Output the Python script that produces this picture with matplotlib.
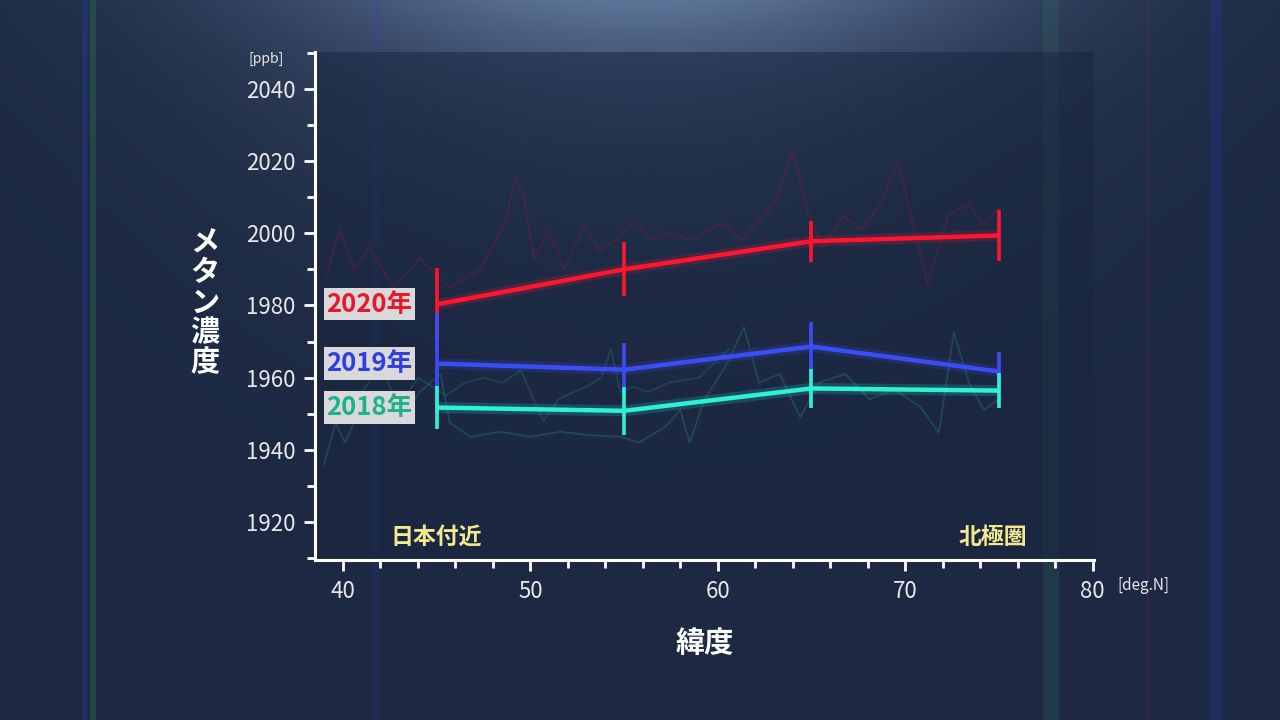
import numpy as np
import matplotlib
matplotlib.use('Agg')
from matplotlib import pyplot as plt
import matplotlib.patheffects as pe
from matplotlib.ticker import MultipleLocator

plt.rcParams['font.family'] = ['Noto Sans CJK JP', 'DejaVu Sans']

# latitude bands (deg N) and mean methane concentration (ppb)
lat = [45, 55, 65, 75]
ch4_2020 = [1980.3, 1990.0, 1997.8, 1999.4]
err_2020 = [10.0, 7.5, 5.7, 7.0]
ch4_2019 = [1963.9, 1962.2, 1968.6, 1961.7]
err_2019 = [14.0, 7.5, 6.7, 5.5]
ch4_2018 = [1951.7, 1950.8, 1957.0, 1956.4]
err_2018 = [6.0, 6.6, 5.3, 4.8]

# faint raw observations behind the means
raw_red_lat = [39.1, 39.8, 40.6, 41.4, 42.7, 44.1, 45.7, 47.3, 48.6, 49.2, 49.7, 50.2,
               51.0, 51.8, 52.9, 53.7, 54.5, 55.6, 56.4, 57.5, 58.6, 60.2, 61.3, 63.1,
               64.0, 64.8, 65.6, 66.7, 67.7, 68.8, 69.6, 70.4, 71.2, 72.3, 73.4, 74.2, 75.0]
raw_red = [1988, 2001, 1990, 1996, 1985, 1993, 1985, 1990, 2002, 2016, 2009, 1993,
           2001, 1990, 2002, 1995, 1998, 2004, 1998, 2000, 1998, 2003, 1998, 2009,
           2023, 2006, 1996, 2005, 2001, 2009, 2020, 2003, 1986, 2005, 2008, 2002, 2007]
raw_teal_lat = [39.0, 39.6, 40.1, 40.9, 42.0, 43.0, 44.1, 45.2, 45.7, 46.8, 48.4, 50.0,
                51.6, 53.2, 54.8, 55.8, 57.2, 58.0, 58.5, 59.3, 60.4, 61.4, 62.2, 63.3,
                64.4, 65.4, 66.8, 68.1, 69.4, 70.8, 71.8, 72.6, 73.4, 74.2, 75.0]
raw_teal = [1936, 1947.5, 1942, 1951, 1953, 1948, 1956, 1961, 1947.5, 1943.6, 1945, 1943.6,
            1945, 1944, 1943.6, 1942, 1946.4, 1951, 1942, 1954, 1963, 1974, 1958.6, 1961,
            1949, 1958.6, 1961, 1954, 1956.7, 1952, 1944.7, 1972.5, 1958.6, 1951, 1954]
raw_teal2_lat = [41.0, 42.0, 43.0, 44.0, 45.5, 46.5, 47.5, 48.5, 49.5, 50.0, 50.7, 51.5,
                 52.3, 53.0, 53.8, 54.3, 54.8, 55.5, 56.3, 57.4, 59.0, 60.6]
raw_teal2 = [1956, 1963, 1952, 1960, 1955, 1958.6, 1960, 1958.6, 1962, 1956, 1948, 1954,
             1956, 1957.5, 1960, 1968, 1956, 1957.5, 1956, 1958.6, 1960, 1968]

RED = '#ff1530'
BLUE = '#3d4df5'
TEAL = '#2ef2d6'

fig = plt.figure(figsize=(12.8, 7.2), dpi=100)

# background gradient
bg = fig.add_axes([0, 0, 1, 1])
gx, gy = np.meshgrid(np.linspace(-1, 1, 256), np.linspace(0, 1, 144))
glow = np.exp(-(gx ** 2) / 0.35) * np.exp(-gy / 0.18)
top = np.array([0x5d, 0x74, 0x98]) / 255
base = np.array([0x1d, 0x29, 0x42]) / 255
img = base[None, None, :] + (top - base)[None, None, :] * glow[..., None]
bg.imshow(img, aspect='auto', extent=[0, 1, 0, 1], origin='upper')
for xs, w, c, a in [(0.07, 0.005, '#2a8a4a', 0.3), (0.064, 0.004, '#2a3ad0', 0.25),
                    (0.815, 0.012, '#2f7a5a', 0.2), (0.945, 0.01, '#2a3ad0', 0.18),
                    (0.895, 0.003, '#a03040', 0.12), (0.29, 0.006, '#3040b0', 0.15)]:
    bg.axvspan(xs, xs + w, color=c, alpha=a, lw=0)
bg.set_xlim(0, 1)
bg.set_ylim(0, 1)
bg.axis('off')

ax = fig.add_axes([0.246, 0.222, 0.609, 0.706])
ax.set_facecolor((0.10, 0.15, 0.25, 0.55))

ax.plot(raw_red_lat, raw_red, color='#a01830', lw=1.3, alpha=0.28, zorder=1)
ax.plot(raw_teal_lat, raw_teal, color='#2a8a80', lw=1.3, alpha=0.33, zorder=1)
ax.plot(raw_teal2_lat, raw_teal2, color='#2a8a80', lw=1.3, alpha=0.28, zorder=1)

glow_fx = lambda c: [pe.Stroke(linewidth=8, foreground=c, alpha=0.18), pe.Normal()]
for y, e, c, z in [(ch4_2018, err_2018, TEAL, 5), (ch4_2019, err_2019, BLUE, 4),
                   (ch4_2020, err_2020, RED, 3)]:
    ax.plot(lat, y, color=c, lw=3.2, zorder=z, solid_capstyle='butt',
            path_effects=glow_fx(c))
    ax.errorbar(lat, y, yerr=e, fmt='none', ecolor=c, elinewidth=2.6, capsize=0, zorder=z)

# year labels
lab_x = 41.4
for txt, y, c in [('2020年', ch4_2020[0], '#e8182c'), ('2019年', ch4_2019[0], '#2f3fe0'),
                  ('2018年', ch4_2018[0], '#1fb08e')]:
    ax.text(lab_x, y, txt, color=c, fontsize=18.5, fontweight='bold', ha='center', va='center',
            zorder=6, bbox=dict(boxstyle='square,pad=0.1', fc='#d9d9dc', ec='none'))

ax.text(45.0, 1915.6, '日本付近', color='#f2ea8e', fontsize=16.5, fontweight='bold',
        ha='center', va='center')
ax.text(74.7, 1915.6, '北極圏', color='#f2ea8e', fontsize=16.5, fontweight='bold',
        ha='center', va='center')

ax.set_xlim(38.5, 80.1)
ax.set_ylim(1909.4, 2050.3)
ax.xaxis.set_major_locator(MultipleLocator(10))
ax.xaxis.set_minor_locator(MultipleLocator(2))
ax.yaxis.set_major_locator(MultipleLocator(20))
ax.yaxis.set_minor_locator(MultipleLocator(10))
ax.set_yticks(np.arange(1920, 2041, 20))
for s in ['top', 'right']:
    ax.spines[s].set_visible(False)
for s in ['left', 'bottom']:
    ax.spines[s].set_color('white')
    ax.spines[s].set_linewidth(2.2)
ax.tick_params(which='both', colors='white', width=2, direction='out')
ax.tick_params(which='major', length=8, labelsize=16, labelcolor='#e8e8e8', pad=6)
ax.tick_params(which='minor', length=6)

ax.set_xlabel('緯度', color='white', fontsize=21, fontweight='bold', labelpad=18)
fig.text(0.160, 0.58, '\n'.join('メタン濃度'), color='white', fontsize=21, fontweight='bold',
         ha='center', va='center', linespacing=1.0)
fig.text(0.208, 0.918, '[ppb]', color='#e8e8e8', fontsize=10, ha='center', va='center')
fig.text(0.893, 0.187, '[deg.N]', color='#e8e8e8', fontsize=11, ha='center', va='center')

fig.savefig('out.png', dpi=100)
